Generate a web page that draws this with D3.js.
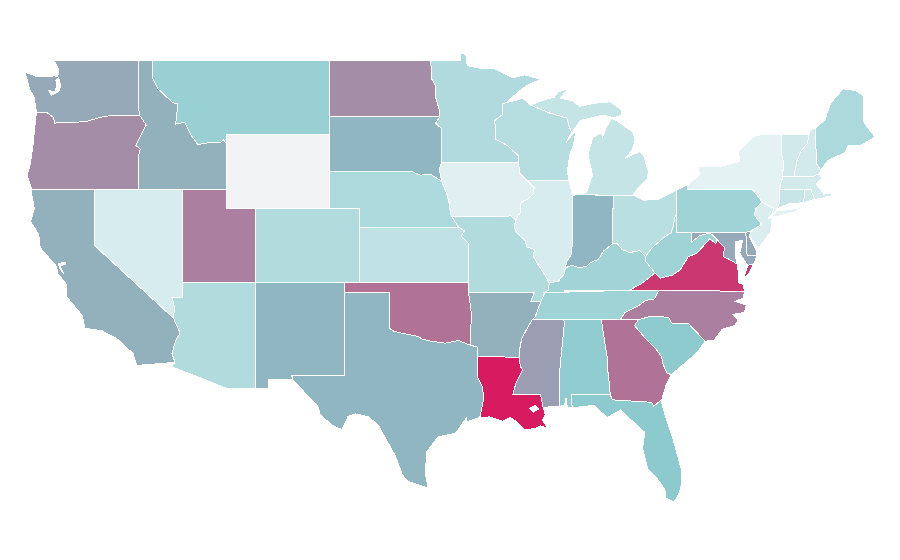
<!DOCTYPE html>
<html>
<head>
<meta charset="utf-8">
<title>States</title>
<script src="https://cdn.jsdelivr.net/npm/d3@7"></script>
<style>
body { margin: 0; background: #fff; }
svg { display: block; }
</style>
</head>
<body>
<svg width="900" height="560"></svg>
<script>
'use strict';

// values, null = no data (Wyoming)
const stateNames = ["WA","OR","CA","NV","ID","MT","WY","UT","CO","AZ","NM","ND","SD","NE","KS","OK","TX","MN","IA","MO","AR","LA","WI","IL","MI","IN","OH","KY","TN","MS","AL","GA","FL","SC","NC","VA","WV","PA","NY","MD","DE","NJ","CT","RI","MA","VT","NH","ME"];
const stateValues = [59,67,57,9,57,41,null,71,28,28,55,67,55,31,21,75,55,29,4,28,57,100,26,9,18,55,24,37,38,62,46,75,48,47,71,92,38,38,2,59,59,7,17,13,11,12,11,31];

// shared borders, lon/lat, so neighbours line up
const redRiverND = [[-97.23,49],[-97.13,48.5],[-97.13,48],[-96.85,47.6],[-96.85,47],[-96.6,46.3],[-96.56,45.94]];
const mnSD = [[-96.56,45.94],[-96.85,45.6],[-96.45,45.3],[-96.45,43.5]];
const iaSD = [[-96.45,43.5],[-96.6,43.1],[-96.45,42.49]];
const neSD = [[-104.05,43],[-98.5,43],[-97.9,42.8],[-97.2,42.85],[-96.7,42.6],[-96.45,42.49]];
const iaNE = [[-96.45,42.49],[-96.1,41.8],[-95.9,41.2],[-95.85,40.7],[-95.76,40.58]];
const moNE = [[-95.76,40.58],[-95.3,40]];
const moKS = [[-95.3,40],[-94.9,39.8],[-95.1,39.5],[-94.61,39.11],[-94.62,37]];

const mnWI = [[-92.01,46.71],[-92.29,46.66],[-92.29,46.08],[-92.87,45.72],[-92.75,45.3],[-92.8,44.75],[-92,44.4],[-91.24,43.85],[-91.22,43.5]];
const iaWI = [[-91.22,43.5],[-91.15,42.9],[-90.64,42.51]];
const iaIL = [[-90.64,42.51],[-90.16,42.12],[-90.2,41.8],[-90.6,41.5],[-91.05,41.35],[-91.1,40.8],[-91.42,40.38]];
const moIL = [[-91.42,40.38],[-91.5,40],[-91.36,39.7],[-90.73,39.25],[-90.7,38.95],[-90.15,38.8],[-90.2,38.4],[-89.83,37.9],[-89.52,37.55],[-89.13,36.98]];
const moKY = [[-89.13,36.98],[-89.2,36.6],[-89.42,36.5]];
const moTN = [[-89.42,36.5],[-89.7,36]];
const arTN = [[-89.7,36],[-89.9,35.6],[-90.1,35.15],[-90.3,35]];
const arMS = [[-90.3,35],[-90.6,34.6],[-91,34],[-91.15,33.4],[-91.17,33]];
const laMS = [[-91.17,33],[-91.1,32.5],[-90.95,32.3],[-91.4,31.6],[-91.6,31],[-89.73,31],[-89.55,30.3]];

const ilKY = [[-89.13,36.98],[-88.5,37.1],[-88.1,37.5],[-88.05,37.8]];
const inKY = [[-88.05,37.8],[-87.6,37.95],[-87.1,37.8],[-86.6,37.9],[-86.3,38.1],[-85.8,38.27],[-85.43,38.73],[-84.82,39.1]];
const ohKY = [[-84.82,39.1],[-84.5,39.1],[-84.2,38.8],[-83.7,38.63],[-83,38.73],[-82.6,38.42]];
const ohWV = [[-82.6,38.42],[-82.15,38.9],[-81.7,39.2],[-81.45,39.4],[-80.85,39.7],[-80.7,40.1],[-80.6,40.55],[-80.52,40.64]];
const ilIN = [[-88.05,37.8],[-87.95,38.15],[-87.65,38.5],[-87.53,39.35],[-87.53,41.7]];
const kyWV = [[-81.97,37.54],[-82.6,38.17],[-82.6,38.42]];
const kyVA = [[-83.68,36.6],[-82.9,36.95],[-82.3,37.3],[-81.97,37.54]];
const vaWV = [[-81.97,37.54],[-81.6,37.25],[-80.75,37.42],[-80.25,37.7],[-79.7,38.4],[-79.1,38.6],[-78.25,39.36],[-77.83,39.13],[-77.72,39.32]];
const mdWV = [[-79.48,39.72],[-79.48,39.2],[-78.9,39.55],[-78.2,39.68],[-77.72,39.32]];
const mdVA = [[-77.72,39.32],[-77.5,39.1],[-77.25,38.93],[-77.3,38.4],[-77,38.3],[-76.35,38]];
const ncTN = [[-81.68,36.59],[-82,36.13],[-82.6,36.05],[-83.1,35.75],[-84,35.4],[-84.32,35]];
const ncSC = [[-83.1,35],[-82.3,35.2],[-81.05,35.15],[-80.8,34.82],[-79.68,34.8],[-78.55,33.86]];
const gaSC = [[-83.1,35],[-83.35,34.7],[-82.6,34],[-81.9,33.45],[-81.5,33],[-81.4,32.6],[-81.15,32.15],[-80.85,32.05]];
const alGA = [[-85.6,35],[-85.18,32.87],[-85.15,32.2],[-85.05,31.55],[-85,31]];
const flGA = [[-85,31],[-84.86,30.7],[-82.2,30.57],[-82.05,30.36],[-81.5,30.7]];
const alMS = [[-88.2,35],[-88.1,34.9],[-88.47,31.9],[-88.42,30.35]];

const okRed = [[-100,34.56],[-99.7,34.4],[-99.2,34.3],[-98.1,34.13],[-97.7,33.95],[-97.1,33.85],[-96.2,33.75],[-95.3,33.9],[-94.48,33.64]];
const laTX = [[-94.04,33.02],[-94.04,32],[-93.65,31.35],[-93.6,30.7],[-93.75,30.1],[-93.85,29.75]];
const azCA = [[-114.65,35.1],[-114.2,34.3],[-114.5,33.9],[-114.75,33.2],[-114.55,32.72]];
const azNV = [[-114.05,36.2],[-114.75,36.2],[-114.57,35.7],[-114.65,35.1]];
const idMT = [[-116.05,49],[-116.05,48],[-115.7,47.45],[-114.7,46.7],[-114.35,46.65],[-114.5,45.55],[-113.9,45.65],[-113.45,44.95],[-113,44.45],[-112.2,44.55],[-111.5,44.55],[-111.25,44.7],[-111.05,44.48]];
const idOR = [[-117.03,42],[-117.03,43.8],[-116.9,44.2],[-117.2,44.4],[-116.5,45.5],[-116.92,46]];
const orWA = [[-116.92,46],[-118.98,46],[-119.6,45.92],[-120.5,45.7],[-121.2,45.65],[-122,45.65],[-122.7,45.6],[-122.8,45.9],[-123.2,46.15],[-123.95,46.2]];

const nyPA = [[-79.76,42.27],[-79.76,42],[-75.35,42],[-75.05,41.75],[-74.7,41.36]];
const njPA = [[-74.7,41.36],[-75.13,40.98],[-75.2,40.65],[-74.72,40.15],[-75.42,39.8]];
const ctNY = [[-73.5,42.05],[-73.5,41.3],[-73.65,41]];
const vtNH = [[-71.5,45],[-71.6,44.5],[-72.05,44.1],[-72.3,43.6],[-72.45,43],[-72.46,42.73]];
const vtNY = [[-73.35,45],[-73.4,44],[-73.25,43.6],[-73.27,42.75]];

const rev = a => a.slice().reverse();

const stateOutlines = {
  WA: [[[-124.05,46.7],[-124.1,47],[-124.4,47.4],[-124.73,48.35],[-123.9,48.1],[-123.1,48.1],[-122.75,48.15],[-122.5,48.1],[-122.45,48.5],[-122.75,48.95],[-122.75,49],[-117.03,49],[-117.04,46.42],...orWA],
       [[-122.45,48.05],[-122.3,47.6],[-122.45,47.3],[-122.95,47.1],[-123.1,47.35],[-122.7,47.3],[-122.55,47.7],[-122.65,47.9]]],
  OR: [[...orWA,[-124.05,45.5],[-124.2,44.3],[-124.4,43.3],[-124.6,42.8],[-124.25,42],...idOR]],
  CA: [[[-124.25,42],[-120,42],[-120,39],...azCA,[-117.15,32.55],[-117.4,33.2],[-118.5,34],[-119.5,34.42],[-120.65,34.55],[-120.85,35.25],[-121.9,36.25],[-121.9,36.9],[-122.5,37.5],[-122.6,37.9],[-123.7,38.9],[-123.8,39.6],[-124.35,40.3],[-124.1,41],[-124.3,41.9]],
       [[-122.45,38.05],[-122,38.1],[-122,38],[-122.35,37.9],[-122.1,37.5],[-122.4,37.8]]],
  NV: [[[-120,42],[-114.04,42],...azNV,[-120,39]]],
  ID: [[[-117.03,49],...idMT,[-111.05,42],...idOR,[-117.04,46.42]]],
  MT: [[[-116.05,49],[-104.05,49],[-104.05,45],[-111.05,45],...rev(idMT)]],
  WY: [[[-111.05,45],[-104.05,45],[-104.05,41],[-111.05,41]]],
  UT: [[[-114.04,42],[-111.05,42],[-111.05,41],[-109.05,41],[-109.05,37],[-114.05,37]]],
  CO: [[[-109.05,41],[-102.05,41],[-102.05,37],[-109.05,37]]],
  AZ: [[[-114.05,37],[-109.05,37],[-109.05,31.33],[-111.07,31.33],[-114.8,32.5],...rev(azCA),...rev(azNV)]],
  NM: [[[-109.05,37],[-103,37],[-103.04,36.5],[-103.06,32],[-106.62,32],[-106.53,31.78],[-108.2,31.78],[-108.2,31.33],[-109.05,31.33]]],
  ND: [[[-104.05,49],...redRiverND,[-104.05,45.94]]],
  SD: [[[-104.05,45.94],...mnSD,...iaSD,...rev(neSD)]],
  NE: [[...neSD,...iaNE,...moNE,[-102.05,40],[-102.05,41],[-104.05,41]]],
  KS: [[[-102.05,40],...moKS,[-102.05,37]]],
  OK: [[[-103,37],[-94.62,37],[-94.62,36.5],[-94.43,35.4],...rev(okRed),[-100,36.5],[-103.04,36.5]]],
  TX: [[[-103.04,36.5],[-100,36.5],...okRed,[-94.04,33.55],...laTX,[-94.8,29.5],[-94.75,29.75],[-95.5,28.9],[-96.7,28.7],[-97.45,27.9],[-97.55,26.75],[-97.35,25.95],[-98.7,26.3],[-99.1,26.65],[-99.6,27.7],[-100.75,29.35],[-101.4,29.78],[-102.3,29.95],[-102.8,29.8],[-103.2,29.1],[-103.8,29.3],[-104.7,29.9],[-104.8,30.3],[-105.4,30.8],[-106.53,31.78],[-106.62,32],[-103.06,32]]],
  MN: [[[-97.23,49],[-95.15,49],[-95.15,49.38],[-94.8,49.3],[-94.7,48.7],[-93.8,48.55],[-92.9,48.55],[-92.3,48.3],[-91.6,48.05],[-90.8,48.2],[-89.9,48],[-89.6,48],[-90.6,47.65],[-91.3,47.25],...mnWI,[-96.45,43.5],...rev(mnSD),...rev(redRiverND).slice(1)]],
  IA: [[[-96.45,43.5],[-91.22,43.5],...iaWI,...iaIL,[-91.73,40.6],[-95.76,40.58],...rev(iaNE),...rev(iaSD)]],
  MO: [[[-95.76,40.58],[-91.73,40.6],...moIL,...moKY,...moTN,[-90.38,36],[-90.15,36.5],[-94.62,36.5],...rev(moKS),...rev(moNE)]],
  AR: [[[-94.62,36.5],[-90.15,36.5],[-90.38,36],...arTN,...arMS,[-94.04,33.02],[-94.04,33.55],[-94.48,33.64],[-94.43,35.4]]],
  LA: [[[-94.04,33.02],...laMS,[-89.4,29.9],[-89.6,29.6],[-89.2,29.15],[-89.7,29.3],[-90.1,29.15],[-90.8,29.1],[-91.3,29.5],[-91.8,29.75],[-92.3,29.55],[-93.2,29.78],...rev(laTX)],
       [[-90.45,30.25],[-90.1,30.4],[-89.85,30.2],[-90.2,30.05]]],
  WI: [[...mnWI.slice(0,1),[-91.2,46.87],[-90.95,46.95],[-90.4,46.57],[-89.1,46.14],[-87.95,45.88],[-87.75,45.35],[-87.6,45.1],[-88,44.55],[-87.3,45.25],[-87.5,44.4],[-87.75,43.9],[-87.9,43],[-87.8,42.49],...rev(iaWI),...rev(mnWI)]],
  IL: [[[-90.64,42.51],[-87.8,42.49],[-87.6,41.85],[-87.53,41.7],...rev(ilIN),...rev(ilKY),...rev(moIL),...rev(iaIL)]],
  MI: [[[-90.4,46.57],[-89.1,46.14],[-87.95,45.88],[-87.75,45.35],[-87.6,45.1],[-87,45.75],[-86.7,45.8],[-85.5,46.04],[-84.75,45.9],[-84.2,46.04],[-84.2,46.3],[-85,46.75],[-86.1,46.67],[-87.1,46.5],[-87.5,46.8],[-88.4,46.95],[-87.85,47.45],[-88.5,47.3],[-88.8,47],[-89.6,46.83]],
       [[-86.82,41.76],[-84.8,41.7],[-83.45,41.73],[-83.15,42.05],[-82.5,42.6],[-82.4,43],[-82.75,43.9],[-83,44.07],[-84,43.7],[-83.5,44.15],[-83.3,44.7],[-83.45,45.1],[-84.3,45.6],[-84.85,45.85],[-85,45.75],[-85.3,45.3],[-85.5,44.85],[-85.6,45.1],[-86.2,44.8],[-86.5,43.9],[-86.2,42.8],[-86.6,41.9]]],
  IN: [[[-87.53,41.7],[-87.2,41.76],[-84.8,41.7],...rev(inKY),...ilIN]],
  OH: [[[-84.8,41.7],[-83.45,41.73],[-82.7,41.45],[-81.7,41.5],[-80.52,41.98],...rev(ohWV),...rev(ohKY)]],
  KY: [[...kyVA.slice(0,1),[-88.07,36.6],[-88.07,36.5],[-89.42,36.5],...rev(moKY),...ilKY,...inKY,...ohKY,...rev(kyWV),...rev(kyVA)]],
  TN: [[[-81.68,36.59],[-83.68,36.6],[-88.07,36.5],...moTN,...arTN,[-84.32,35],...rev(ncTN)]],
  MS: [[[-90.3,35],...alMS,[-89.55,30.3],...rev(laMS).slice(1),...rev(arMS)]],
  AL: [[...alGA,[-87.6,31],[-87.6,30.4],[-87.5,30.28],[-87.9,30.3],[-88,30.8],[-88.1,30.4],...rev(alMS)]],
  GA: [[...alGA.slice(0,1),...gaSC,[-81.2,31.5],...rev(flGA),...rev(alGA).slice(1)]],
  FL: [[[-87.6,31],...flGA,[-81.5,30.55],[-81.25,29.8],[-80.75,28.65],[-80.15,26.9],[-80.15,26.2],[-80.3,25.7],[-80.65,25.2],[-81.2,25.4],[-81.3,25.9],[-81.85,26.5],[-82.45,27],[-82.8,28.1],[-82.65,28.95],[-83.2,29.35],[-84.3,30.15],[-85.2,29.75],[-86.1,30.4],[-87.5,30.28],[-87.6,30.4]]],
  SC: [[...ncSC,[-79.15,33.2],[-79.9,32.7],...rev(gaSC)]],
  NC: [[[-75.87,36.55],...ncTN,...ncSC,[-77.95,33.9],[-77.4,34.5],[-76.55,34.7],[-76.3,35],[-76.7,35.3],[-75.9,35.4],[-75.75,35.8],[-76.5,36],[-75.95,36.2]]],
  VA: [[[-75.87,36.55],[-83.68,36.6],...kyVA,...vaWV,...mdVA,[-76.3,37.5],[-76.3,37],[-76,36.93]],
       [[-75.24,38.03],[-75.65,37.95],[-75.95,37.2],[-75.6,37.5]]],
  WV: [[[-80.52,40.64],[-80.52,39.72],...mdWV,...rev(vaWV),...kyWV,...ohWV]],
  PA: [[[-80.52,41.98],...nyPA,...njPA,[-75.79,39.72],[-80.52,39.72]]],
  NY: [[...nyPA.slice(0,1),[-78.9,42.85],[-79.05,43.27],[-77.5,43.27],[-76.2,43.55],[-76.3,44.1],[-75.3,44.85],[-74.7,45],...vtNY,[-73.5,42.05],...ctNY.slice(1),[-73.8,40.8],[-74,40.7],[-73.9,41],...rev(nyPA)],
       [[-74,40.6],[-73.75,40.85],[-72.6,40.98],[-71.87,41.07],[-72.5,40.8],[-73.6,40.58]]],
  MD: [[...mdWV.slice(0,1),[-75.79,39.72],[-75.7,38.46],[-75.05,38.45],[-75.24,38.03],[-75.65,37.95],[-75.9,38.2],[-76.2,38.6],[-76,39.3],[-76.5,39.2],[-76.5,38.4],...rev(mdVA),...rev(mdWV).slice(1)]],
  DE: [[[-75.79,39.72],[-75.42,39.8],[-75.55,39.5],[-75.1,38.8],[-75.05,38.45],[-75.7,38.46]]],
  NJ: [[[-74.7,41.36],[-73.9,41],[-74,40.7],[-74.25,40.48],[-74,40.45],[-74.1,39.75],[-74.8,39],[-75,38.93],[-75.55,39.5],[-75.42,39.8],...rev(njPA)]],
  CT: [[...ctNY.slice(0,1),[-71.8,42.02],[-71.85,41.32],[-72.9,41.25],[-73.65,41],[-73.5,41.3]]],
  RI: [[[-71.8,42.02],[-71.38,42.02],[-71.12,41.5],[-71.85,41.32]]],
  MA: [[[-73.5,42.05],[-73.27,42.75],[-72.46,42.73],[-71.3,42.7],[-70.82,42.87],[-70.6,42.65],[-71,42.3],[-70.65,41.95],[-70.5,41.78],[-70.05,41.8],[-70.2,42.07],[-69.95,41.7],[-70.65,41.55],[-71.12,41.5],[-71.38,42.02],[-71.8,42.02]]],
  VT: [[[-73.35,45],...vtNH,...rev(vtNY)]],
  NH: [[...vtNH,[-71.3,42.7],[-70.82,42.87],[-70.7,43.07],[-70.98,43.4],[-71.08,45.3],[-71.3,45.3]]],
  ME: [[[-71.08,45.3],[-70.4,45.8],[-70.25,46.2],[-70,46.7],[-69.2,47.45],[-68.3,47.35],[-67.8,47.07],[-67.8,45.7],[-67.45,45.3],[-67,44.85],[-68,44.4],[-68.8,44.4],[-69.1,44],[-70.2,43.6],[-70.7,43.07],[-70.98,43.4]]]
};

const svg = d3.select("svg");

const x = d3.scaleLinear().domain([-124.73,-66.95]).range([25,876]);
const y = d3.scaleLinear().domain([49,25]).range([60,505.7]);

// the map is plain lon/lat stretched to fit, north border is a straight line
const project = d3.geoTransform({
  point: function(lon, lat) { this.stream.point(x(lon), y(lat)); }
});
const path = d3.geoPath(project);

const color = d3.scaleLinear()
    .domain([0,50,100])
    .range(["#e8f4f5","#88c8cc","#d81b60"]);
const noData = "#f2f3f5";

// these have a second part, the others at most a hole
const multiPart = ["MI","VA","NY"];

const states = stateNames.map((name,i) => {
  const rings = stateOutlines[name].map(r => r.concat([r[0]]));
  return {
    name: name,
    value: stateValues[i],
    geo: multiPart.includes(name)
      ? {type:"MultiPolygon", coordinates: rings.map(r => [r])}
      : {type:"Polygon", coordinates: rings}
  };
});

svg.append("g")
    .selectAll("path")
    .data(states)
    .join("path")
    .attr("d", d => path(d.geo))
    .attr("fill", d => d.value === null ? noData : color(d.value))
    .attr("fill-rule", "evenodd")
    .attr("stroke", "#fff")
    .attr("stroke-width", 1)
    .attr("shape-rendering", "crispEdges");
</script>
</body>
</html>
